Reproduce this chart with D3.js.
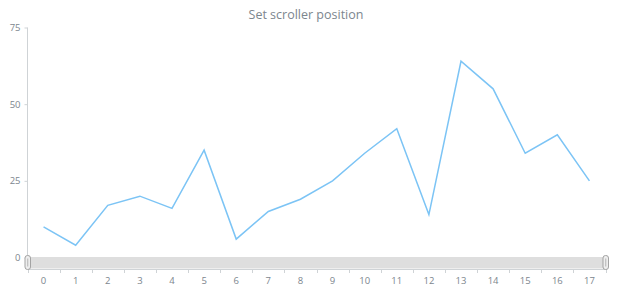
<!DOCTYPE html>
<html>
<head>
<meta charset="utf-8">
<script src="https://cdn.jsdelivr.net/npm/d3@7"></script>
<style>
  html, body { margin: 0; padding: 0; background: #fff; }
  svg { display: block; font-family: "Open Sans", "Noto Sans", sans-serif; }
</style>
</head>
<body>
<svg id="chart" width="620" height="300"></svg>
<script>
const categories = ["0","1","2","3","4","5","6","7","8","9","10","11","12","13","14","15","16","17"];
const values = [10, 4, 17, 20, 16, 35, 6, 15, 19, 25, 34, 42, 14, 64, 55, 34, 40, 25];
const yTicks = [0, 25, 50, 75];
const titleText = "Set scroller position";

const svg = d3.select("#chart");
const plotLeft = 27.5, plotRight = 605.5, plotTop = 27.5, plotBottom = 257.5;
const textColor = "#7c868e";
const axisColor = "#cfd3d6";

const x = d3.scaleBand().domain(categories).range([plotLeft, plotRight]);
const y = d3.scaleLinear().domain([0, 75]).range([plotBottom, plotTop]);

// title
svg.append("text")
  .attr("x", 306).attr("y", 19)
  .attr("text-anchor", "middle")
  .attr("fill", textColor)
  .attr("font-size", 12.5)
  .text(titleText);

// y axis
const yAxis = svg.append("g")
  .attr("transform", `translate(${plotLeft},0)`)
  .call(d3.axisLeft(y).tickValues(yTicks).tickSize(3).tickPadding(4));
yAxis.select(".domain").attr("stroke", axisColor).attr("d", `M0,${plotTop}V${plotBottom}`);
yAxis.selectAll(".tick line").attr("stroke", axisColor);
yAxis.selectAll(".tick text").attr("fill", textColor).attr("font-size", 9.5)
  .attr("font-family", "'Open Sans', sans-serif");

// line series
const line = d3.line()
  .x((d, i) => x(categories[i]) + x.bandwidth() / 2)
  .y(d => y(d));
svg.append("path")
  .datum(values)
  .attr("d", line)
  .attr("fill", "none")
  .attr("stroke", "#7cc4f5")
  .attr("stroke-width", 1.5)
  .attr("stroke-linejoin", "miter");

// scroller
const scrollTop = 257, scrollH = 11.5;
svg.append("rect")
  .attr("x", plotLeft).attr("y", scrollTop)
  .attr("width", plotRight - plotLeft).attr("height", scrollH)
  .attr("fill", "#dedede");

// x axis under scroller
const xAxisY = scrollTop + scrollH + 0.5;
const xAxis = svg.append("g")
  .attr("transform", `translate(0,${xAxisY})`)
  .call(d3.axisBottom(x).tickSize(0).tickPadding(8));
xAxis.select(".domain").attr("stroke", axisColor);
xAxis.selectAll(".tick text").attr("fill", textColor).attr("font-size", 9.5)
  .attr("font-family", "'Open Sans', sans-serif");
// category boundary ticks
const bounds = categories.map(c => x(c)).concat([plotRight]);
svg.append("g").selectAll("line")
  .data(bounds).join("line")
  .attr("x1", d => Math.round(d) + 0.5).attr("x2", d => Math.round(d) + 0.5)
  .attr("y1", xAxisY).attr("y2", xAxisY + 4)
  .attr("stroke", axisColor);

// scroller handles
[plotLeft - 3, plotRight - 3].forEach(hx => {
  const g = svg.append("g");
  g.append("rect")
    .attr("x", hx + 0.5).attr("y", scrollTop - 1.5)
    .attr("width", 5.5).attr("height", scrollH + 2.5)
    .attr("rx", 2.5)
    .attr("fill", "#eeeeee").attr("stroke", "#a3a3a3").attr("stroke-width", 1);
  g.append("line")
    .attr("x1", hx + 3.25).attr("x2", hx + 3.25)
    .attr("y1", scrollTop + 1.5).attr("y2", scrollTop + scrollH - 2)
    .attr("stroke", "#b5b5b5").attr("stroke-width", 1);
});
</script>
</body>
</html>
